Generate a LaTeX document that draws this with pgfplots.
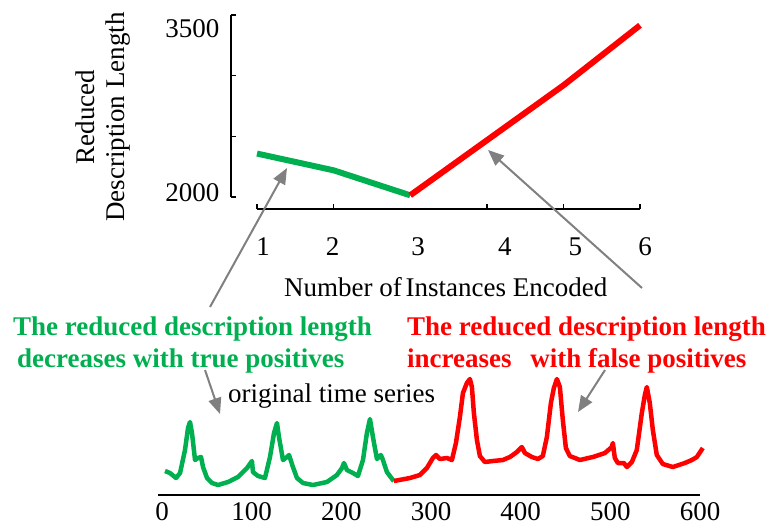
\documentclass[border=0pt]{standalone}
\usepackage{pgfplots}
\usepackage{pgfplotstable}
\pgfplotsset{compat=1.18}
\usepackage{fontspec}
\setmainfont{Liberation Serif}
\usetikzlibrary{arrows.meta}
\definecolor{mygreen}{RGB}{0,176,80}
\definecolor{arrowgray}{RGB}{128,128,128}

\pgfplotstableread{
t v
3.3 24
8.9 22
15.6 17
20.1 22
25.6 45
29.0 67
31.2 73
33.4 62
36.8 35
40.1 37
43.5 38
45.7 28
50.2 17
55.7 12
62.4 10
73.6 13
84.7 18
94.8 27
100.3 34
101.4 23
107.0 19
114.8 17
120.4 38
124.9 62
128.2 72
130.4 58
134.9 35
139.4 38
141.6 40
146.0 28
150.5 17
157.2 12
168.3 10
183.9 13
195.1 20
200.7 27
202.9 32
206.2 25
212.9 22
218.5 19
224.1 35
228.5 62
231.9 76
235.2 58
239.7 36
244.1 40
246.4 35
250.8 23
257.5 15
258.6 14
}\greenseries

\pgfplotstableread{
t v
258.6 14
276.5 17
287.6 20
295.4 27
302.1 37
305.5 40
309.9 36
317.7 37
323.3 35
327.8 52
332.2 78
335.6 102
340.0 112
343.4 116
345.6 108
347.8 82
351.2 55
354.5 39
360.1 33
369.0 34
380.2 35
388.0 38
395.8 43
401.3 48
404.7 42
412.5 38
419.2 36
424.7 39
429.2 58
433.7 92
437.0 107
440.4 116
443.7 108
447.0 75
450.4 47
454.8 39
466.0 35
480.5 38
493.9 42
501.7 48
502.8 52
505.0 37
508.4 32
515.1 32
518.4 28
524.0 33
529.5 45
535.1 82
538.5 100
540.7 108
544.0 92
547.4 65
551.8 40
558.5 31
569.7 28
583.1 32
590.9 35
596.5 38
603.1 47
}\redseries

\begin{document}
\begin{tikzpicture}[font=\fontsize{27}{30}\selectfont]
\useasboundingbox (0,0) rectangle (770pt,-525pt);

% top chart
\begin{axis}[
  at={(257pt,-197pt)}, anchor=south west,
  scale only axis, width=383pt, height=182pt,
  xmin=1, xmax=6, ymin=2000, ymax=3500,
  axis lines*=left,
  axis x line shift=12pt, axis y line shift=26pt,
  axis line style={line width=2pt},
  tick style={line width=1.6pt, black},
  tick align=inside,
  major tick length=5pt,
  xtick={1,2,4,5,6},
  xticklabels={\kern6pt 1\kern-6pt, \kern-1pt 2\kern1pt, \kern18pt 4\kern-18pt, \kern12pt 5\kern-12pt, \kern5pt 6\kern-5pt},
  extra x ticks={3},
  extra x tick labels={\kern8pt 3\kern-8pt},
  extra x tick style={major tick length=0pt, grid=none},
  xticklabel style={yshift=-25pt},
  ytick={2000,2500,3000,3500},
  yticklabels={\smash{\raisebox{-4pt}{2000}},,,\smash{\raisebox{-22pt}{3500}}},
  yticklabel style={xshift=-8pt},
  clip=false,
  xlabel={Number of\hspace{-3pt} Instances Encoded},
  xlabel style={at={(axis description cs:0.493,-0.549)}, anchor=base},
  ylabel={Reduced\\Description Length},
  ylabel style={at={(axis description cs:-0.402,0.44)}, anchor=center, align=center},
]
\addplot[mygreen, line width=6pt] coordinates {(1,2358) (2,2220) (3,2014)};
\addplot[red, line width=6pt] coordinates {(3,2014) (4,2467) (5,2920) (6,3415)};
\end{axis}

% bottom time series
\begin{axis}[
  at={(158pt,-495pt)}, anchor=south west,
  scale only axis, width=542pt, height=120pt,
  xmin=-4.5, xmax=600, ymin=0, ymax=120,
  axis x line*=bottom, axis y line=none,
  axis line style={line width=2pt},
  xtick={0,100,200,300,400,500,600}, major tick length=0pt,
  xticklabel style={inner sep=0pt, yshift=-7pt},
  /pgf/number format/assume math mode=true,
  clip=false,
]
\addplot[mygreen, line width=4.5pt, line join=round] table[x=t, y=v] {\greenseries};
\addplot[red, line width=4.5pt, line join=round] table[x=t, y=v] {\redseries};
\end{axis}

% annotations
\draw[arrowgray, line width=2pt, -{Triangle[length=16pt,width=13pt]}] (210pt,-307pt) -- (287pt,-168pt);
\draw[arrowgray, line width=2pt, -{Triangle[length=16pt,width=13pt]}] (642pt,-288pt) -- (488pt,-150pt);
\draw[arrowgray, line width=2pt, -{Triangle[length=16pt,width=13pt]}] (205pt,-370pt) -- (220pt,-414pt);
\draw[arrowgray, line width=2pt, -{Triangle[length=16pt,width=13pt]}] (605pt,-370pt) -- (578pt,-412pt);

\node[anchor=base west, inner sep=0pt, text=mygreen, font=\fontsize{27}{30}\selectfont\bfseries] at (13pt,-335pt) {The reduced description length};
\node[anchor=base west, inner sep=0pt, text=mygreen, font=\fontsize{27}{30}\selectfont\bfseries] at (17pt,-367pt) {decreases with true positives};
\node[anchor=base west, inner sep=0pt, text=red, font=\fontsize{27}{30}\selectfont\bfseries] at (407pt,-335pt) {The reduced description length};
\node[anchor=base west, inner sep=0pt, text=red, font=\fontsize{27}{30}\selectfont\bfseries] at (407pt,-367pt) {increases\hspace{12pt} with false positives};
\node[anchor=base west, inner sep=0pt] at (228pt,-402pt) {original time series};
\end{tikzpicture}
\end{document}
